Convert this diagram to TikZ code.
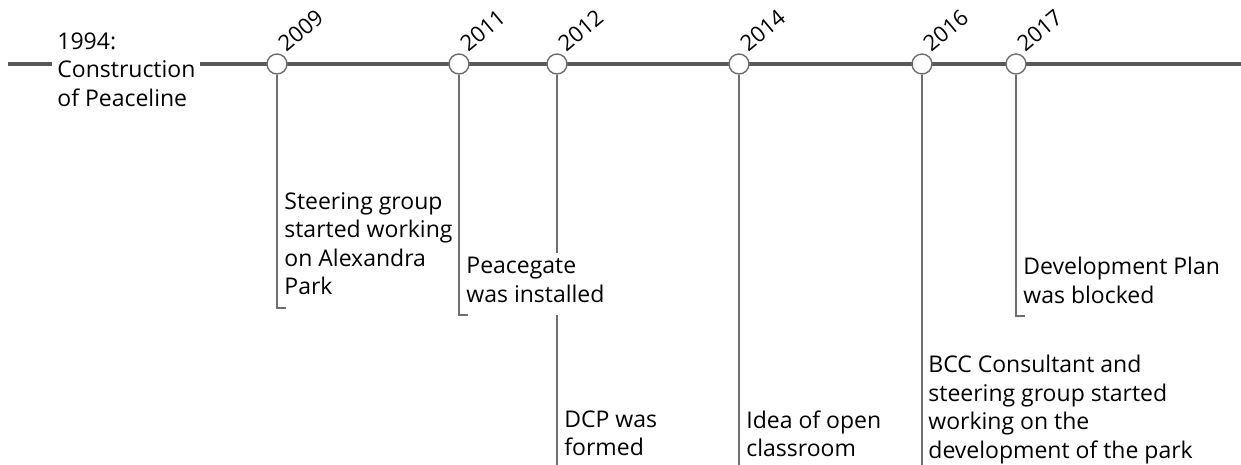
\documentclass[tikz,border=0pt]{standalone}
\usepackage{fontspec}
\setmainfont{Open Sans}
\usetikzlibrary{backgrounds}

\definecolor{axisgray}{HTML}{595959}
\definecolor{stemgray}{HTML}{6E6E6E}

\tikzset{
    axis/.style={line width=2pt, draw=axisgray},
    stem/.style={line width=1pt, draw=stemgray},
    marker/.style={circle, draw=stemgray, line width=0.7pt, fill=white, minimum size=10pt, inner sep=0pt},
    year/.style={rotate=40, anchor=south west, inner sep=0pt, font=\fontsize{11}{13}\selectfont},
    event/.style={anchor=north west, align=left, fill=white, inner xsep=2.5pt, inner ysep=2pt,
        font=\fontsize{11.5}{14.25}\selectfont, execute at begin node=\strut, execute at end node=\strut},
}

\begin{document}
\begin{tikzpicture}[x=0.5pt, y=-0.5pt]
    \useasboundingbox (0,0) rectangle (1241,465);

    % Ends of the time axis
    \coordinate (start) at (8,64);
    \coordinate (end) at (1241,64);
    \coordinate (bottom) at (0,465);

    % Year markers on the axis
    \node[marker] (y2009) at (277,64) {};
    \node[marker] (y2011) at (459,64) {};
    \node[marker] (y2012) at (557,64) {};
    \node[marker] (y2014) at (739,64) {};
    \node[marker] (y2016) at (922,64) {};
    \node[marker] (y2017) at (1016,64) {};

    % Year labels
    \node[year] (l2009) at ([shift={(2,-3)}]y2009.north east) {2009};
    \node[year] (l2011) at ([shift={(2,-3)}]y2011.north east) {2011};
    \node[year] (l2012) at ([shift={(2,-3)}]y2012.north east) {2012};
    \node[year] (l2014) at ([shift={(2,-3)}]y2014.north east) {2014};
    \node[year] (l2016) at ([shift={(2,-3)}]y2016.north east) {2016};
    \node[year] (l2017) at ([shift={(2,-3)}]y2017.north east) {2017};

    % Start of the line
    \node[event] (e1994) at (52,28) {1994:\\Construction\\of Peaceline};

    % Events below the axis
    \node[event] (e2009) at (279,188) {Steering group\\started working\\on Alexandra\\Park};
    \node[event] (e2011) at (461,253) {Peacegate\\was installed};
    \node[event] (e2012) at (559,406) {DCP was\\formed};
    \node[event] (e2014) at (741,406) {Idea of open\\classroom};
    \node[event] (e2016) at (923,351) {BCC Consultant and\\steering group started\\working on the\\development of the park};
    \node[event] (e2017) at (1018,253) {Development Plan\\was blocked};

    % Axis and long stems go behind the text boxes
    \begin{pgfonlayer}{background}
        \draw[axis] (start) -- (end);
        \draw[stem] (y2012) -- (y2012 |- bottom);
        \draw[stem] (y2014) -- (y2014 |- bottom);
        \draw[stem] (y2016) -- (y2016 |- bottom);
    \end{pgfonlayer}

    % Short stems ending in a small foot
    \draw[stem] (y2009) -- (y2009 |- e2009.south) -- ++(9,0);
    \draw[stem] (y2011) -- (y2011 |- e2011.south) -- ++(9,0);
    \draw[stem] (y2017) -- (y2017 |- e2017.south) -- ++(9,0);
\end{tikzpicture}
\end{document}
